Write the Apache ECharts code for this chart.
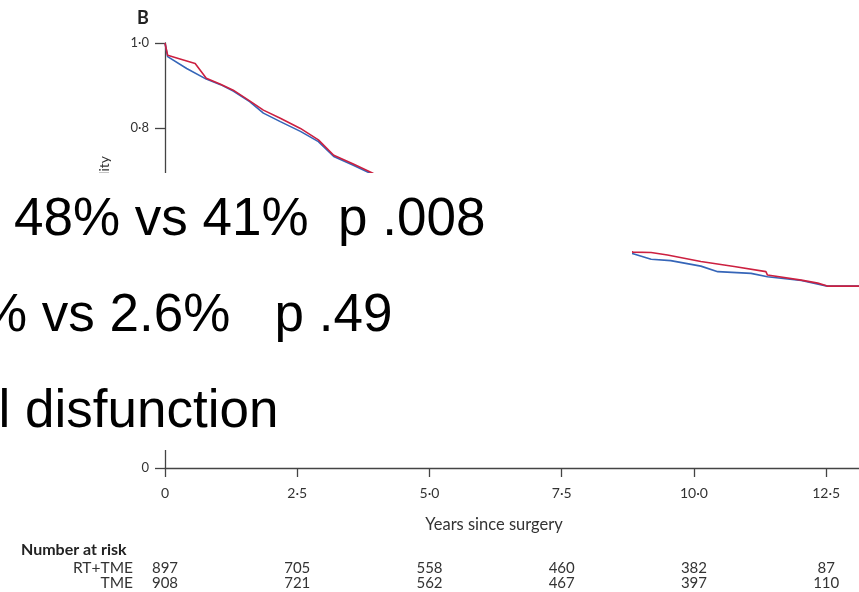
<!DOCTYPE html>
<html>
<head>
<meta charset="utf-8">
<script src="https://cdn.jsdelivr.net/npm/echarts@6/dist/echarts.min.js"></script>
<style>
html,body{margin:0;padding:0;background:#fff}
#main{width:859px;height:592px}
</style>
</head>
<body>
<div id="main"></div>
<script>
// survival curves (years, probability)
var rtTimes = [0, 0.05, 0.3, 0.57, 0.78, 1.05, 1.29, 1.6, 1.86, 2.18, 2.56, 2.9, 3.19, 3.55, 3.94, 5.5, 7.0, 8.85, 9.19, 9.5, 10.13, 10.76, 11.36, 11.39, 12.03, 12.34, 12.52, 13.3];
var rtSurv  = [1.0, 0.971, 0.962, 0.952, 0.917, 0.903, 0.889, 0.864, 0.842, 0.823, 0.799, 0.772, 0.736, 0.716, 0.693, 0.62, 0.56, 0.508, 0.507, 0.501, 0.486, 0.474, 0.462, 0.454, 0.442, 0.435, 0.428, 0.428];
var tmeTimes = [0, 0.05, 0.41, 0.78, 1.05, 1.29, 1.6, 1.86, 2.18, 2.56, 2.9, 3.19, 3.55, 3.94, 5.5, 7.0, 8.85, 9.19, 9.56, 10.13, 10.45, 11.08, 11.39, 12.03, 12.52, 13.3];
var tmeSurv  = [1.0, 0.968, 0.940, 0.915, 0.902, 0.887, 0.862, 0.835, 0.815, 0.792, 0.768, 0.733, 0.713, 0.69, 0.615, 0.555, 0.504, 0.491, 0.488, 0.475, 0.462, 0.458, 0.450, 0.441, 0.428, 0.428];

// number at risk
var riskTimes = [0, 2.5, 5, 7.5, 10, 12.5];
var riskRt  = [897, 705, 558, 460, 382, 87];
var riskTme = [908, 721, 562, 467, 397, 110];
var groups = ['RT+TME', 'TME'];

// slide text lying over the figure
var slideLines = ['48% vs 41%  p .008', '% vs 2.6%   p .49', 'l disfunction'];

var small = "Lato,'Open Sans',sans-serif";

function pairs(xs, ys) {
    var out = [];
    for (var i = 0; i < xs.length; i++) out.push([xs[i], ys[i]]);
    return out;
}
function dot(v) {
    if (v === 0) return '0';
    if (Math.abs(v / 2.5 - Math.round(v / 2.5)) > 1e-6 && v > 1) return '';
    return v.toFixed(1).replace('.', '\u00b7');
}

var myChart = echarts.init(document.getElementById('main'));
var option = {
    animation: false,
    backgroundColor: '#fff',
    grid: {left: 165, right: 0, top: 43, bottom: 124},
    xAxis: {
        type: 'value', min: 0, max: 13.12, interval: 2.5,
        name: 'Years since surgery', nameLocation: 'middle', nameGap: 48,
        nameTextStyle: {fontFamily: small, fontSize: 16.5, color: '#333', padding: [0, 36, 0, 0]},
        axisLine: {lineStyle: {color: '#444', width: 1.3}},
        axisTick: {length: 9, lineStyle: {color: '#444', width: 1.3}},
        axisLabel: {margin: 18, fontFamily: small, fontSize: 14, color: '#333', formatter: dot, showMaxLabel: false},
        splitLine: {show: false}
    },
    yAxis: {
        type: 'value', min: 0, max: 1, interval: 0.2,
        axisLine: {show: true, lineStyle: {color: '#444', width: 1.3}},
        axisTick: {show: true, length: 10, lineStyle: {color: '#444', width: 1.3}},
        axisLabel: {margin: 16, fontFamily: small, fontSize: 13, color: '#333', formatter: dot},
        splitLine: {show: false}
    },
    series: [{
        name: 'TME', type: 'line', data: pairs(tmeTimes, tmeSurv),
        showSymbol: false, lineStyle: {color: '#3565b8', width: 1.6}, z: 2
    }, {
        name: 'RT+TME', type: 'line', data: pairs(rtTimes, rtSurv),
        showSymbol: false, lineStyle: {color: '#cc2040', width: 1.6}, z: 3
    }]
};
myChart.setOption(option);

var g = [];
g.push({type: 'text', left: 137, top: 9, z: 10,
    style: {text: 'B', font: 'bold 18px ' + small, fill: '#222'}});
g.push({type: 'text', x: 104, y: 156, rotation: Math.PI / 2, z: 10,
    style: {text: 'Probability', font: '14px ' + small, fill: '#333', align: 'right', verticalAlign: 'middle'}});
// white box of the slide text
g.push({type: 'rect', shape: {x: 0, y: 173, width: 632, height: 277}, z: 100,
    style: {fill: '#fff'}});
var starts = [14, -20, -1.5];
for (var i = 0; i < slideLines.length; i++) {
    g.push({type: 'text', x: starts[i], y: 220 + i * 96, z: 101,
        style: {text: slideLines[i], font: "53px 'Liberation Sans',Arial,sans-serif", fill: '#000', verticalAlign: 'middle'}});
}
// number at risk table
g.push({type: 'text', x: 21, y: 550, z: 10,
    style: {text: 'Number at risk', font: 'bold 16px ' + small, fill: '#222', verticalAlign: 'middle'}});
var rows = [riskRt, riskTme];
for (var r = 0; r < rows.length; r++) {
    var yRow = 568 + r * 15;
    g.push({type: 'text', x: 133, y: yRow, z: 10,
        style: {text: groups[r], font: '15.5px ' + small, fill: '#333', align: 'right', verticalAlign: 'middle'}});
    for (var k = 0; k < riskTimes.length; k++) {
        var px = myChart.convertToPixel({gridIndex: 0}, [riskTimes[k], 0])[0];
        g.push({type: 'text', x: px, y: yRow, z: 10,
            style: {text: String(rows[r][k]), font: '15px ' + small, fill: '#333', align: 'center', verticalAlign: 'middle'}});
    }
}
myChart.setOption({graphic: g});
</script>
</body>
</html>
